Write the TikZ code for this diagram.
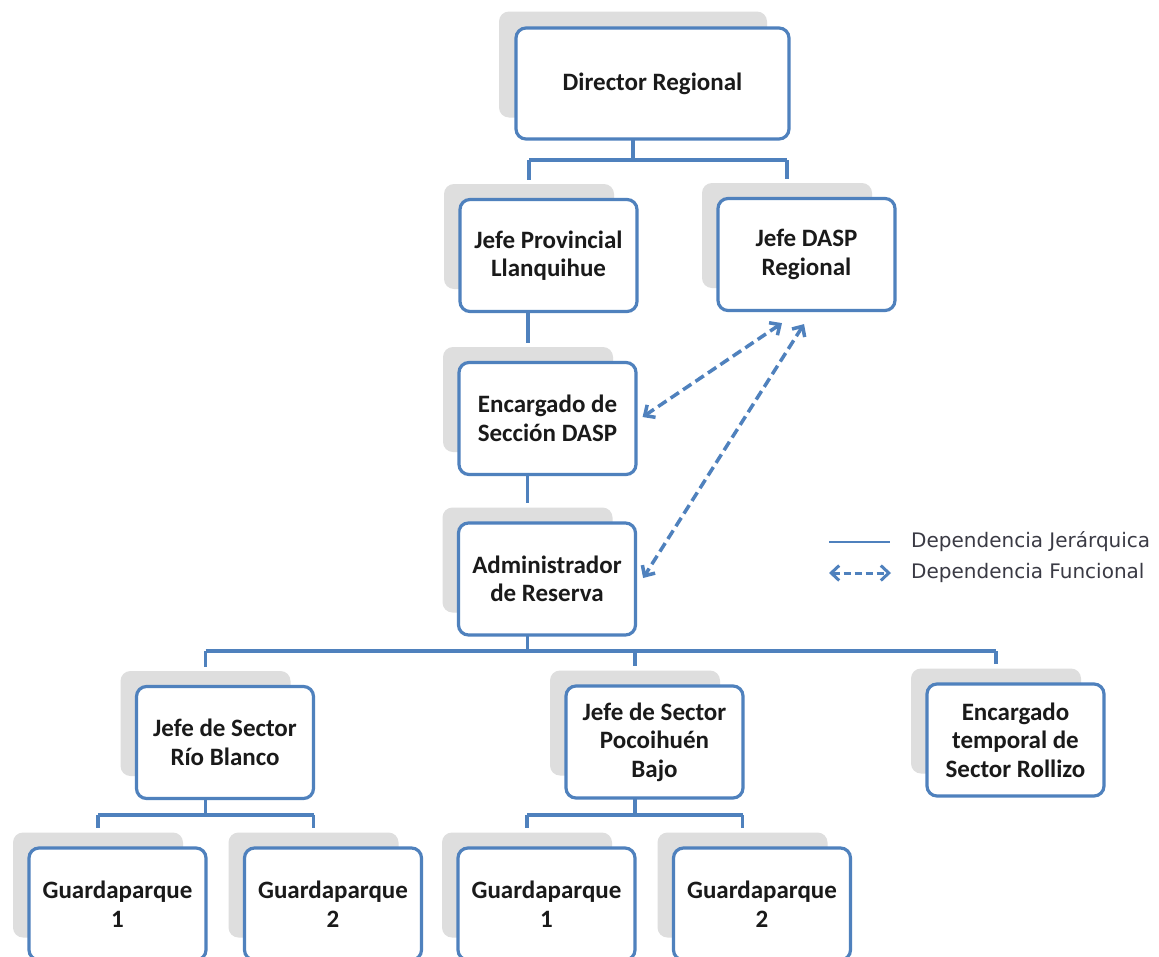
\documentclass[tikz,border=0pt]{standalone}
\usepackage{fontspec}
\setmainfont{Carlito}
\newfontfamily\legendfont{DejaVu Sans}
\usetikzlibrary{arrows.meta,calc}
\definecolor{bblue}{HTML}{4F81BD}
\definecolor{shgray}{HTML}{DEDEDE}
\definecolor{txt}{HTML}{1A1A1A}
\definecolor{lgray}{HTML}{3A3A44}
\begin{document}
\begin{tikzpicture}[x=1pt,y=-1pt,
  box/.style={draw=bblue, line width=3.2pt, rounded corners=10pt, fill=white,
    minimum width=177pt, minimum height=112pt, align=center,
    font=\fontsize{25}{28.5}\selectfont\bfseries, text=txt, inner sep=0pt},
  shad/.style={fill=shgray, rounded corners=10pt, minimum width=170pt,
    minimum height=105pt, inner sep=0pt},
  conn/.style={draw=bblue, line width=3.4pt},
  func/.style={draw=bblue, line width=3.5pt, dash pattern=on 10pt off 5pt,
    {Straight Barb[length=8pt,width=15pt]}-{Straight Barb[length=8pt,width=15pt]}},
  lg/.style={font=\legendfont\fontsize{20}{22}\selectfont, text=lgray, anchor=west, inner sep=0pt}
]
\path[use as bounding box, clip] (0,0) rectangle (1159,956);
\fill[white] (0,0) rectangle (1159,956);

% bus levels
\coordinate (bus1) at (0,160);
\coordinate (bus2) at (0,651);
\coordinate (bus3) at (0,815);

% shadows
\node[shad, minimum width=268pt, minimum height=106pt] (dirS) at (633,64.5) {};
\node[shad] (jpS)   at (529,236.5) {};
\node[shad] (daspS) at (787,235.5) {};
\node[shad] (encS)  at (528,399.5) {};
\node[shad] (admS)  at (527.5,560) {};
\node[shad] (rbS)   at (205.5,723.5) {};
\node[shad] (pocoS) at (635,723) {};
\node[shad] (tempS) at (996,721) {};
\node[shad] (g1aS)  at (98,885) {};
\node[shad] (g2aS)  at (313.5,885) {};
\node[shad] (g1bS)  at (527,885) {};
\node[shad] (g2bS)  at (742.5,885) {};

% connectors
\draw[conn] (dirS.center |- 0,139) -- (dirS.center |- bus1);
\draw[conn] (jpS.center |- bus1) -- (daspS.center |- bus1);
\draw[conn, shorten >=4pt] (jpS.center |- bus1) -- (jpS.north);
\draw[conn, shorten >=4pt] (daspS.center |- bus1) -- (daspS.north);
\draw[conn, shorten >=4pt] (encS.center |- 0,312) -- (encS.north);
\draw[conn, shorten >=4pt] (admS.center |- 0,475) -- (admS.north);
\draw[conn] (admS.center |- 0,635) -- (admS.center |- bus2);
\draw[conn] (rbS.center |- bus2) -- (tempS.center |- bus2);
\draw[conn, shorten >=4pt] (rbS.center |- bus2) -- (rbS.north);
\draw[conn, shorten >=4pt] (pocoS.center |- bus2) -- (pocoS.north);
\draw[conn, shorten >=4pt] (tempS.center |- bus2) -- (tempS.north);
\draw[conn] (rbS.center |- 0,799) -- (rbS.center |- bus3);
\draw[conn] (g1aS.center |- bus3) -- (g2aS.center |- bus3);
\draw[conn, shorten >=4pt] (g1aS.center |- bus3) -- (g1aS.north);
\draw[conn, shorten >=4pt] (g2aS.center |- bus3) -- (g2aS.north);
\draw[conn] (pocoS.center |- 0,798) -- (pocoS.center |- bus3);
\draw[conn] (g1bS.center |- bus3) -- (g2bS.center |- bus3);
\draw[conn, shorten >=4pt] (g1bS.center |- bus3) -- (g1bS.north);
\draw[conn, shorten >=4pt] (g2bS.center |- bus3) -- (g2bS.north);

% boxes
\node[box, minimum width=273pt, minimum height=111pt] (dir) at (652.5,83.5) {Director Regional};
\node[box] (jp)   at (548.5,255.5) {Jefe Provincial\\Llanquihue};
\node[box] (dasp) at (806.5,254.5) {Jefe DASP\\Regional};
\node[box] (enc)  at (547.5,418.5) {Encargado de\\Sección DASP};
\node[box] (adm)  at (547,579) {Administrador\\de Reserva};
\node[box] (rb)   at (225,742.5) {Jefe de Sector\\Río Blanco};
\node[box] (poco) at (654.5,742) {Jefe de Sector\\Pocoihuén\\Bajo};
\node[box] (temp) at (1015.5,740) {Encargado\\temporal de\\Sector Rollizo};
\node[box] (g1a)  at (117.5,904) {Guardaparque\\1};
\node[box] (g2a)  at (333,904) {Guardaparque\\2};
\node[box] (g1b)  at (546.5,904) {Guardaparque\\1};
\node[box] (g2b)  at (762,904) {Guardaparque\\2};

% functional dependencies
\draw[func] ([shift={(-24.5,11)}]dasp.south) -- ([shift={(5,-1.5)}]enc.east);
\draw[func] ([shift={(-2.5,12)}]dasp.south) -- ([shift={(6,-1)}]adm.east);

% legend
\coordinate (l1a) at (829,542);
\coordinate (l1b) at (890,542);
\coordinate (l2a) at (829,573);
\coordinate (l2b) at (891,573);
\draw[conn, line width=2pt] (l1a) -- (l1b);
\draw[func, line width=3pt, dash pattern=on 7pt off 4pt] (l2a) -- (l2b);
\node[lg] (lt1) at (911,542) {Dependencia Jerárquica};
\node[lg] (lt2) at (911,573) {Dependencia Funcional};
\end{tikzpicture}
\end{document}
